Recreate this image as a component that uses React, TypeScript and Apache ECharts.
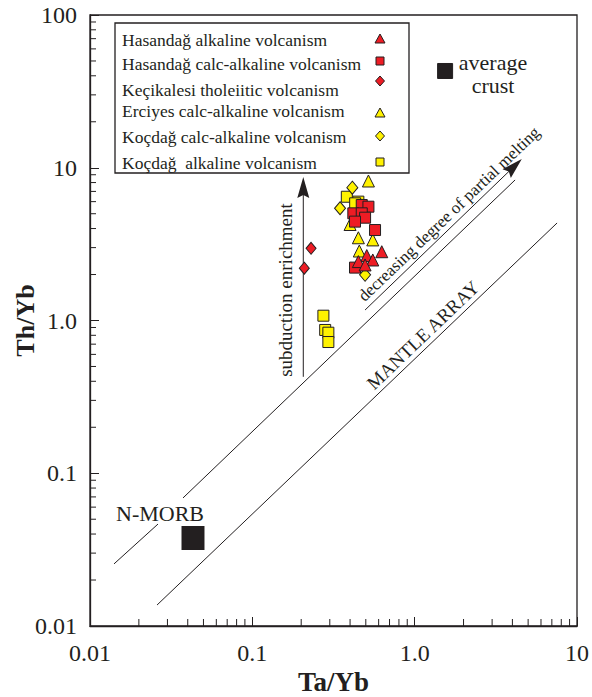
import React, { useEffect, useRef } from "react";
import * as echarts from "echarts";

// ---- axes ----
const xTickValues = [0.01, 0.1, 1, 10];
const xTickLabels = ["0.01", "0.1", "1.0", "10"];
const yTickValues = [0.01, 0.1, 1, 10, 100];
const yTickLabels = ["0.01", "0.1", "1.0", "10", "100"];
const xMinorTicks = [0.02, 0.03, 0.04, 0.05, 0.06, 0.07, 0.08, 0.09, 0.2, 0.3, 0.4, 0.5, 0.6, 0.7, 0.8, 0.9, 2, 3, 4, 5, 6, 7, 8, 9];
const yMinorTicks = [0.02, 0.03, 0.04, 0.05, 0.06, 0.07, 0.08, 0.09, 0.2, 0.3, 0.4, 0.5, 0.6, 0.7, 0.8, 0.9, 2, 3, 4, 5, 6, 7, 8, 9, 20, 30, 40, 50, 60, 70, 80, 90];

// ---- series names ----
const seriesNames = [
  "Hasandağ alkaline volcanism",
  "Hasandağ calc-alkaline volcanism",
  "Keçikalesi tholeiitic volcanism",
  "Erciyes calc-alkaline volcanism",
  "Koçdağ calc-alkaline volcanism",
  "Koçdağ  alkaline volcanism",
];

// ---- data [Ta/Yb, Th/Yb] ----
const hasandagAlkaline = [[0.627, 2.82], [0.507, 2.66], [0.552, 2.49], [0.450, 2.43], [0.495, 2.31]];
const hasandagCalcAlkaline = [[0.472, 5.70], [0.519, 5.56], [0.419, 5.03], [0.472, 5.03], [0.495, 4.71], [0.429, 4.44], [0.570, 3.91], [0.429, 2.22]];
const kecikalesiTholeiitic = [[0.230, 2.97], [0.209, 2.20]];
const erciyesCalcAlkaline = [[0.519, 8.19], [0.450, 3.48], [0.552, 3.37], [0.456, 2.85], [0.400, 4.25]];
const kocdagCalcAlkaline = [[0.413, 7.40], [0.347, 5.43], [0.495, 1.99]];
const kocdagAlkaline = [[0.382, 6.46], [0.450, 6.00], [0.430, 5.85], [0.274, 1.075], [0.281, 0.867], [0.294, 0.832], [0.294, 0.723]];

const nMorb = [[0.0431, 0.0377]];
const averageCrust = [[1.54, 43]];

// ---- reference lines ----
const upperMantleLineA = [[0.01406, 0.0255], [0.02624, 0.0465]];
const upperMantleLineB = [[0.0374, 0.0689], [4.155, 8.32]];
const lowerMantleLine = [[0.02588, 0.01372], [7.54, 4.35]];
// [x0, y0, xTip, yTip]
const subductionArrow = [0.206, 0.428, 0.206, 8.7];
const meltingArrow = [0.4948, 1.171, 4.57, 11.41];

const INK = "#231F20";
const RED = "#ED1C24";
const YELLOW = "#FFF200";
const SERIF = "Liberation Serif";

function fmt(values: number[], labels: string[]) {
  return (v: number) => {
    for (let i = 0; i < values.length; i++) {
      if (Math.abs(Math.log10(v) - Math.log10(values[i])) < 1e-6) return labels[i];
    }
    return "";
  };
}

export default function App() {
  const ref = useRef<HTMLDivElement>(null);
  useEffect(() => {
    if (!ref.current) return;
    const chart = echarts.init(ref.current, null, { renderer: "svg" });

    const lineSeries = (data: number[][]) => ({
      type: "line",
      data,
      showSymbol: false,
      symbol: "none",
      silent: true,
      lineStyle: { color: INK, width: 1 },
      z: 1,
    });

    const arrowSeries = (arr: number[]) => ({
      type: "custom",
      coordinateSystem: "cartesian2d",
      silent: true,
      data: [arr],
      encode: { x: 0, y: 1 },
      z: 1,
      renderItem: (_p: any, api: any) => {
        const p0 = api.coord([api.value(0), api.value(1)]);
        const p1 = api.coord([api.value(2), api.value(3)]);
        const dx = p1[0] - p0[0];
        const dy = p1[1] - p0[1];
        const len = Math.hypot(dx, dy);
        const ux = dx / len;
        const uy = dy / len;
        const L = 21;
        const W = 6;
        const bx = p1[0] - ux * L;
        const by = p1[1] - uy * L;
        const nx = -uy;
        const ny = ux;
        return {
          type: "group",
          children: [
            { type: "line", shape: { x1: p0[0], y1: p0[1], x2: bx + ux * 4, y2: by + uy * 4 }, style: { stroke: INK, lineWidth: 1 } },
            {
              type: "polygon",
              shape: { points: [[p1[0], p1[1]], [bx + nx * W, by + ny * W], [bx + ux * 3, by + uy * 3], [bx - nx * W, by - ny * W]] },
              style: { fill: INK },
            },
          ],
        };
      },
    });

    const minorTickSeries = (vals: number[], axis: "x" | "y") => ({
      type: "custom",
      coordinateSystem: "cartesian2d",
      silent: true,
      data: vals.map((v) => (axis === "x" ? [v, 0.01] : [0.01, v])),
      encode: { x: 0, y: 1 },
      z: 5,
      renderItem: (_p: any, api: any) => {
        const p = api.coord([api.value(0), api.value(1)]);
        return axis === "x"
          ? { type: "line", shape: { x1: p[0], y1: p[1], x2: p[0], y2: p[1] - 7 }, style: { stroke: INK, lineWidth: 1 } }
          : { type: "line", shape: { x1: p[0], y1: p[1], x2: p[0] + 6, y2: p[1] }, style: { stroke: INK, lineWidth: 1 } };
      },
    });

    const scatter = (name: string, data: number[][], symbol: string, size: any, color: string, z: number) => ({
      type: "scatter",
      name,
      data,
      symbol,
      symbolSize: size,
      itemStyle: { color, borderColor: INK, borderWidth: 1, opacity: 1 },
      z,
    });

    const textStyle = (text: string, size: number) => ({
      text,
      fontSize: size,
      fontFamily: SERIF,
      fill: INK,
      align: "center",
      verticalAlign: "middle",
      textAlign: "center",
      textVerticalAlign: "middle",
    });

    // legend (graphic)
    const legendRows = [
      { ty: 40, sy: 39, shape: "triangle", color: RED },
      { ty: 64, sy: 61, shape: "rect", color: RED },
      { ty: 90, sy: 81, shape: "diamond", color: RED },
      { ty: 111, sy: 113, shape: "triangle", color: YELLOW },
      { ty: 137, sy: 136, shape: "diamond", color: YELLOW },
      { ty: 163, sy: 162, shape: "rect", color: YELLOW },
    ];
    const legendGraphics: any[] = [
      { type: "rect", shape: { x: 115, y: 23, width: 294, height: 150 }, style: { fill: "#fff", stroke: INK, lineWidth: 1.3 }, z: 10 },
    ];
    legendRows.forEach((r, i) => {
      legendGraphics.push({
        type: "text",
        x: 122,
        y: r.ty,
        z: 11,
        style: { ...textStyle(seriesNames[i], 17.5), align: "left", textAlign: "left" },
      });
      const cx = 380;
      const cy = r.sy;
      if (r.shape === "triangle") {
        legendGraphics.push({ type: "polygon", z: 11, shape: { points: [[cx, cy - 5], [cx + 5, cy + 4], [cx - 5, cy + 4]] }, style: { fill: r.color, stroke: INK, lineWidth: 1 } });
      } else if (r.shape === "rect") {
        legendGraphics.push({ type: "rect", z: 11, shape: { x: cx - 4, y: cy - 4, width: 8, height: 8 }, style: { fill: r.color, stroke: INK, lineWidth: 1 } });
      } else {
        legendGraphics.push({ type: "polygon", z: 11, shape: { points: [[cx, cy - 5], [cx + 4.5, cy], [cx, cy + 5], [cx - 4.5, cy]] }, style: { fill: r.color, stroke: INK, lineWidth: 1 } });
      }
    });

    const textEl = (text: string, x: number, y: number, size: number, rotation = 0) => ({
      type: "text",
      x,
      y,
      rotation,
      z: 12,
      style: textStyle(text, size),
    });
    const lineAngle = Math.atan(0.957);

    const option: any = {
      animation: false,
      backgroundColor: "#ffffff",
      textStyle: { fontFamily: SERIF },
      grid: { left: 90, right: 15, top: 15, bottom: 71, show: true, borderColor: INK, borderWidth: 1.3, backgroundColor: "transparent", outerBoundsMode: "none", containLabel: false },
      xAxis: {
        type: "log",
        logBase: 10,
        min: 0.01,
        max: 10,
        name: "Ta/Yb",
        nameLocation: "middle",
        nameGap: 42,
        nameMoveOverlap: false,
        nameTextStyle: { fontFamily: SERIF, fontWeight: "bold", fontSize: 27, color: INK },
        axisLine: { show: true, onZero: false, lineStyle: { color: INK, width: 1.3 } },
        axisTick: { show: true, inside: true, length: 9, lineStyle: { color: INK, width: 1 } },
        minorTick: { show: false },
        splitLine: { show: false },
        axisLabel: { formatter: fmt(xTickValues, xTickLabels), fontFamily: SERIF, fontSize: 24, color: INK, margin: 15, showMaxLabel: true, showMinLabel: true },
      },
      yAxis: {
        type: "log",
        logBase: 10,
        min: 0.01,
        max: 100,
        name: "Th/Yb",
        nameLocation: "middle",
        nameGap: 52,
        nameMoveOverlap: false,
        nameTextStyle: { fontFamily: SERIF, fontWeight: "bold", fontSize: 26, color: INK },
        axisLine: { show: true, onZero: false, lineStyle: { color: INK, width: 1.3 } },
        axisTick: { show: true, inside: true, length: 9, lineStyle: { color: INK, width: 1 } },
        minorTick: { show: false },
        splitLine: { show: false },
        axisLabel: { formatter: fmt(yTickValues, yTickLabels), fontFamily: SERIF, fontSize: 24, color: INK, margin: 13, showMaxLabel: true, showMinLabel: true },
      },
      series: [
        minorTickSeries(xMinorTicks, "x"),
        minorTickSeries(yMinorTicks, "y"),
        lineSeries(upperMantleLineA),
        lineSeries(upperMantleLineB),
        lineSeries(lowerMantleLine),
        arrowSeries(subductionArrow),
        arrowSeries(meltingArrow),
        scatter("N-MORB", nMorb, "rect", [22, 23], INK, 3),
        scatter("average crust", averageCrust, "rect", 15, INK, 3),
        scatter(seriesNames[5], kocdagAlkaline, "rect", 11, YELLOW, 4),
        scatter(seriesNames[3], erciyesCalcAlkaline, "triangle", 12, YELLOW, 4),
        scatter(seriesNames[4], kocdagCalcAlkaline, "diamond", [11, 13], YELLOW, 4),
        scatter(seriesNames[2], kecikalesiTholeiitic, "diamond", [10, 12], RED, 6),
        scatter(seriesNames[1], hasandagCalcAlkaline, "rect", 11, RED, 6),
        scatter(seriesNames[0], hasandagAlkaline, "triangle", 12, RED, 7),
      ],
      graphic: [
        ...legendGraphics,
        textEl("N-MORB", 160, 513, 22),
        textEl("average", 493, 62, 22),
        textEl("crust", 493, 85, 22),
        textEl("subduction enrichment", 285, 290, 19, Math.PI / 2),
        textEl("decreasing degree of partial melting", 449, 214, 17, lineAngle),
        textEl("MANTLE ARRAY", 423, 335, 19, lineAngle),
      ],
    };
    chart.setOption(option);
    return () => chart.dispose();
  }, []);
  return <div ref={ref} style={{ position: "absolute", left: 0, top: 0, width: 592, height: 697 }} />;
}
